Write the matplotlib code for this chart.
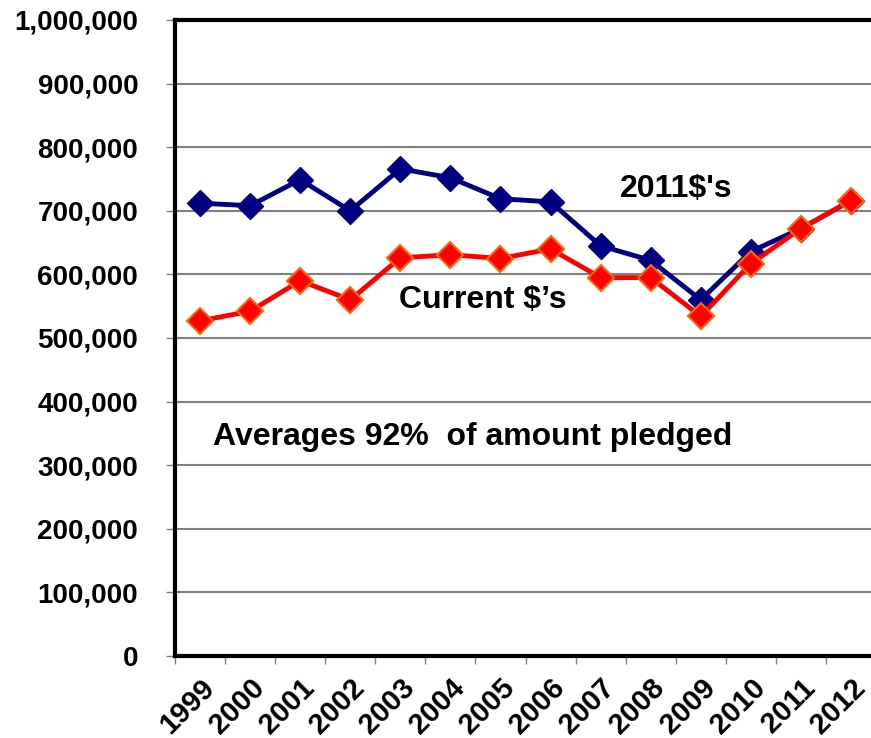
import matplotlib
matplotlib.use("Agg")
import matplotlib.pyplot as plt
from matplotlib.ticker import FuncFormatter, FixedLocator

plt.rcParams['font.family'] = ['Liberation Sans', 'DejaVu Sans']

years = ['1999', '2000', '2001', '2002', '2003', '2004', '2005', '2006',
         '2007', '2008', '2009', '2010', '2011', '2012']
real_2011 = [712000, 708000, 749000, 700000, 766000, 752000, 719000, 714000,
             645000, 622000, 560000, 636000, 672000, 716000]
current = [527000, 542000, 590000, 560000, 626000, 631000, 625000, 640000,
           595000, 595000, 534000, 617000, 672000, 716000]

fig = plt.figure(figsize=(8.71, 7.38), dpi=100)
ax = fig.add_axes([175/871, 1-656/738, 696/871, (656-20)/738])

x = list(range(len(years)))
ax.plot(x, real_2011, color='#000080', lw=3.5, marker='D', ms=13,
        mfc='#000080', mec='#000080', zorder=3)
ax.plot(x, current, color='#FF0000', lw=3.5, marker='D', ms=13,
        mfc='#FF0000', mec='#FF6600', mew=1.5, zorder=4)

ax.set_ylim(0, 1000000)
ax.set_xlim(-0.5, 13.4)
ax.set_yticks(range(0, 1000001, 100000))
ax.yaxis.set_major_formatter(FuncFormatter(lambda v, p: f"{int(v):,}"))
ax.grid(axis='y', color='#808080', lw=1.5)
ax.set_axisbelow(True)

ax.xaxis.set_major_locator(FixedLocator([i - 0.5 for i in range(len(years) + 1)]))
ax.set_xticklabels([])
ax.xaxis.set_minor_locator(FixedLocator(x))
ax.set_xticklabels(years, minor=True, rotation=45, ha='right',
                   rotation_mode='anchor', fontsize=21, fontweight='bold')
ax.tick_params(axis='x', which='minor', length=0, pad=13)
ax.tick_params(axis='x', which='major', length=6, width=1, color='#808080', direction='out')
ax.tick_params(axis='y', length=6.5, width=1, color='#808080', direction='out', pad=20,
               labelsize=20)
for lab in ax.get_yticklabels():
    lab.set_fontweight('bold')

for s in ['left', 'bottom', 'top']:
    ax.spines[s].set_linewidth(3)
    ax.spines[s].set_color('black')
ax.spines['right'].set_visible(False)

ax.text(9.5, 735000, "2011$'s", ha='center', va='center', fontsize=23, fontweight='bold')
ax.text(5.65, 560000, "Current $\u2019s", ha='center', va='center', fontsize=23, fontweight='bold')
ax.text(5.45, 345000, "Averages 92%  of amount pledged", ha='center', va='center',
        fontsize=23, fontweight='bold')

fig.savefig('out.png', dpi=100)
